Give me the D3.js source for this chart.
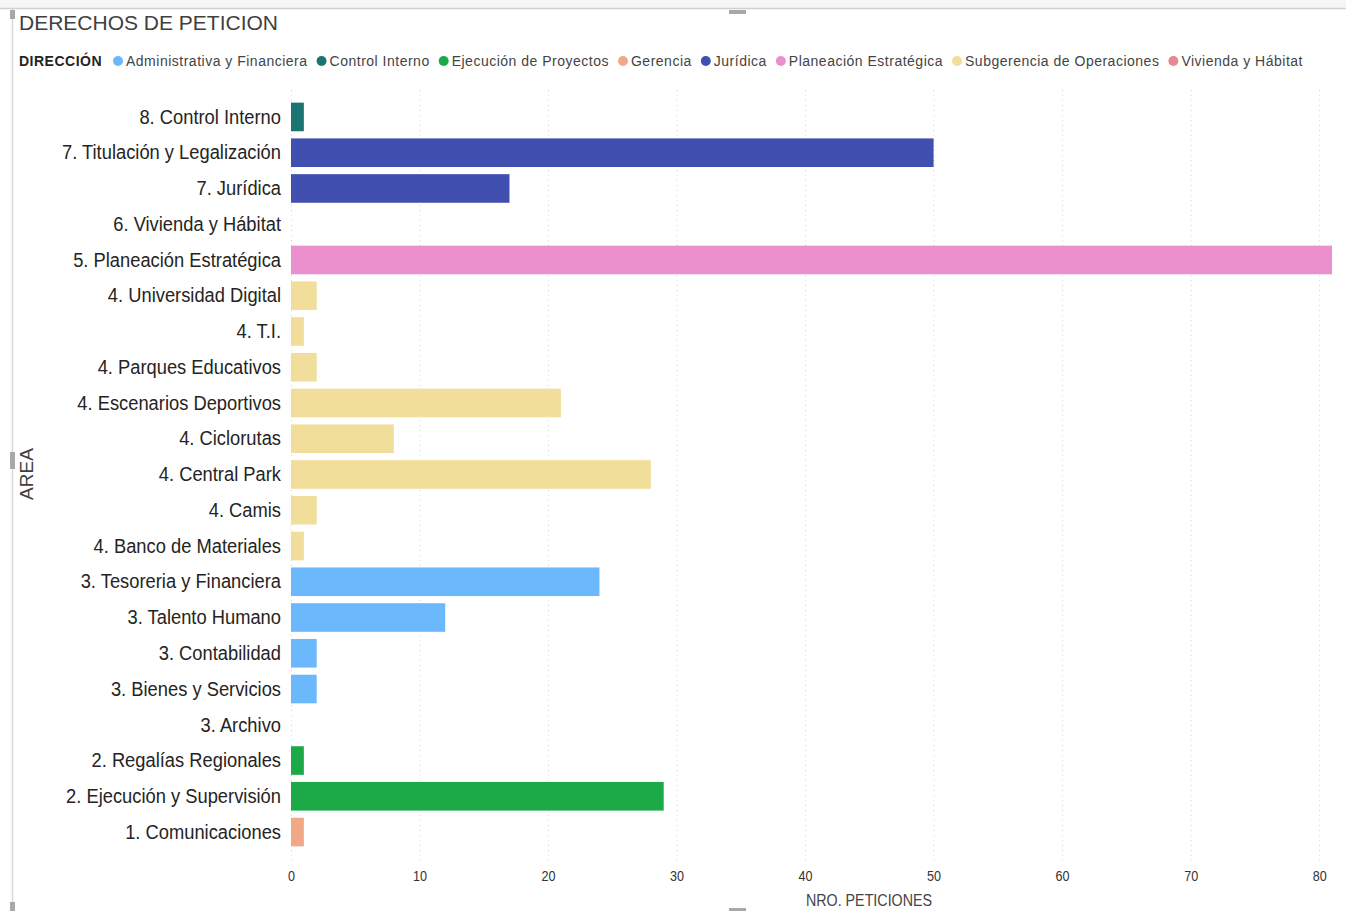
<!DOCTYPE html>
<html>
<head>
    <meta charset="utf-8">
    <style>
        body { margin: 0; background: #fff; }
        svg { display: block; }
    </style>
</head>
<body>
<svg width="1346" height="911"></svg>
<script src="https://d3js.org/d3.v7.min.js"></script>
<script>
    // data
    let areas = ["8. Control Interno", "7. Titulación y Legalización", "7. Jurídica", "6. Vivienda y Hábitat",
        "5. Planeación Estratégica", "4. Universidad Digital", "4. T.I.", "4. Parques Educativos",
        "4. Escenarios Deportivos", "4. Ciclorutas", "4. Central Park", "4. Camis", "4. Banco de Materiales",
        "3. Tesoreria y Financiera", "3. Talento Humano", "3. Contabilidad", "3. Bienes y Servicios",
        "3. Archivo", "2. Regalías Regionales", "2. Ejecución y Supervisión", "1. Comunicaciones"]
    let peticiones = [1, 50, 17, 0, 81, 2, 1, 2, 21, 8, 28, 2, 1, 24, 12, 2, 2, 0, 1, 29, 1]
    let direccionDe = ["Control Interno", "Jurídica", "Jurídica", "Vivienda y Hábitat",
        "Planeación Estratégica", "Subgerencia de Operaciones", "Subgerencia de Operaciones",
        "Subgerencia de Operaciones", "Subgerencia de Operaciones", "Subgerencia de Operaciones",
        "Subgerencia de Operaciones", "Subgerencia de Operaciones", "Subgerencia de Operaciones",
        "Administrativa y Financiera", "Administrativa y Financiera", "Administrativa y Financiera",
        "Administrativa y Financiera", "Administrativa y Financiera", "Ejecución de Proyectos",
        "Ejecución de Proyectos", "Gerencia"]
    let direcciones = ["Administrativa y Financiera", "Control Interno", "Ejecución de Proyectos", "Gerencia",
        "Jurídica", "Planeación Estratégica", "Subgerencia de Operaciones", "Vivienda y Hábitat"]
    let colores = ["#6cb8fc", "#1c7470", "#1caa48", "#f0a887", "#4150b0", "#eb90cc", "#f0de9a", "#e8888e"]
    let xTicks = [0, 10, 20, 30, 40, 50, 60, 70, 80]

    let rows = areas.map((a, i) => ({ area: a, value: peticiones[i], dir: direccionDe[i] }))

    let svg = d3.select("svg")
    let font = "'Liberation Sans', Arial, sans-serif"

    let color = d3.scaleOrdinal().domain(direcciones).range(colores)

    let x = d3.scaleLinear().domain([0, 81]).range([291, 1332])
    let y = d3.scaleBand().domain(areas).range([95.5, 853.5]).paddingInner(0.2).paddingOuter(0.2)

    // frame bits
    svg.append("rect").attr("x", 0).attr("y", 0).attr("width", 1346).attr("height", 8).style("fill", "#f6f6f6")
    svg.append("line").attr("x1", 0).attr("x2", 1346).attr("y1", 8.5).attr("y2", 8.5)
        .style("stroke", "#d0d0d0").style("stroke-width", 1.5)
    svg.append("line").attr("x1", 12.5).attr("x2", 12.5).attr("y1", 9).attr("y2", 911)
        .style("stroke", "#d8d8d8").style("stroke-width", 1.5)
    let handles = [[10, 10, 5, 9], [729, 10, 17, 4], [10, 452, 5, 17], [10, 902, 5, 9], [729, 908, 17, 3]]
    svg.selectAll(".handle").data(handles).join("rect")
        .attr("x", d => d[0]).attr("y", d => d[1]).attr("width", d => d[2]).attr("height", d => d[3])
        .style("fill", "#a8a8a8")

    // title
    svg.append("text").attr("x", 19).attr("y", 30)
        .text("DERECHOS DE PETICION")
        .style("font-family", font)
        .style("font-size", "21px").style("fill", "#404040")

    // legend
    let legend = svg.append("g").attr("transform", "translate(0,61)")
        .style("font-family", font).style("font-size", "14px").style("letter-spacing", "0.5px")
    legend.append("text").attr("x", 19).attr("dy", "0.35em").text("DIRECCIÓN")
        .style("font-weight", "bold").style("fill", "#252423")
    let lx = 113
    direcciones.forEach(d => {
        legend.append("circle").attr("cx", lx + 5).attr("cy", 0).attr("r", 5).style("fill", color(d))
        let t = legend.append("text").attr("x", lx + 13).attr("dy", "0.35em").text(d).style("fill", "#444")
        lx = lx + 13 + t.node().getComputedTextLength() + 9
    })

    // gridlines
    svg.selectAll(".grid").data(xTicks).join("line")
        .attr("x1", d => x(d) + 0.5).attr("x2", d => x(d) + 0.5)
        .attr("y1", 90).attr("y2", 862)
        .style("stroke", "#d4d4d4").style("stroke-dasharray", "1,4")

    // x axis
    let xAxis = svg.append("g").attr("transform", "translate(0,866)")
        .call(d3.axisBottom(x).tickValues(xTicks).tickSize(0).tickPadding(5))
    xAxis.select(".domain").remove()
    xAxis.selectAll("text")
        .attr("transform", "scale(0.9,1)")
        .style("font-family", font).style("font-size", "14px").style("fill", "#333")

    svg.append("text").attr("transform", "translate(869,906) scale(0.84,1)")
        .attr("text-anchor", "middle").text("NRO. PETICIONES")
        .style("font-family", font).style("font-size", "17px").style("fill", "#444")

    // y axis, condensed labels
    let sx = 0.873
    let yAxis = svg.append("g").attr("transform", "translate(291,0)")
        .call(d3.axisLeft(y).tickSize(0).tickPadding(10))
    yAxis.select(".domain").remove()
    yAxis.selectAll("text")
        .attr("x", -10 / sx)
        .attr("transform", "scale(" + sx + ",1)")
        .style("font-family", font).style("font-size", "21px").style("fill", "#252423")

    svg.append("text").attr("transform", "translate(33,474) rotate(-90)")
        .attr("text-anchor", "middle").text("AREA")
        .style("font-family", font)
        .style("font-size", "19px").style("fill", "#404040")

    // bars
    svg.selectAll(".bar").data(rows).join("rect")
        .attr("class", "bar")
        .attr("x", x(0))
        .attr("y", d => y(d.area))
        .attr("width", d => x(d.value) - x(0))
        .attr("height", y.bandwidth())
        .style("fill", d => color(d.dir))
</script>
</body>
</html>
